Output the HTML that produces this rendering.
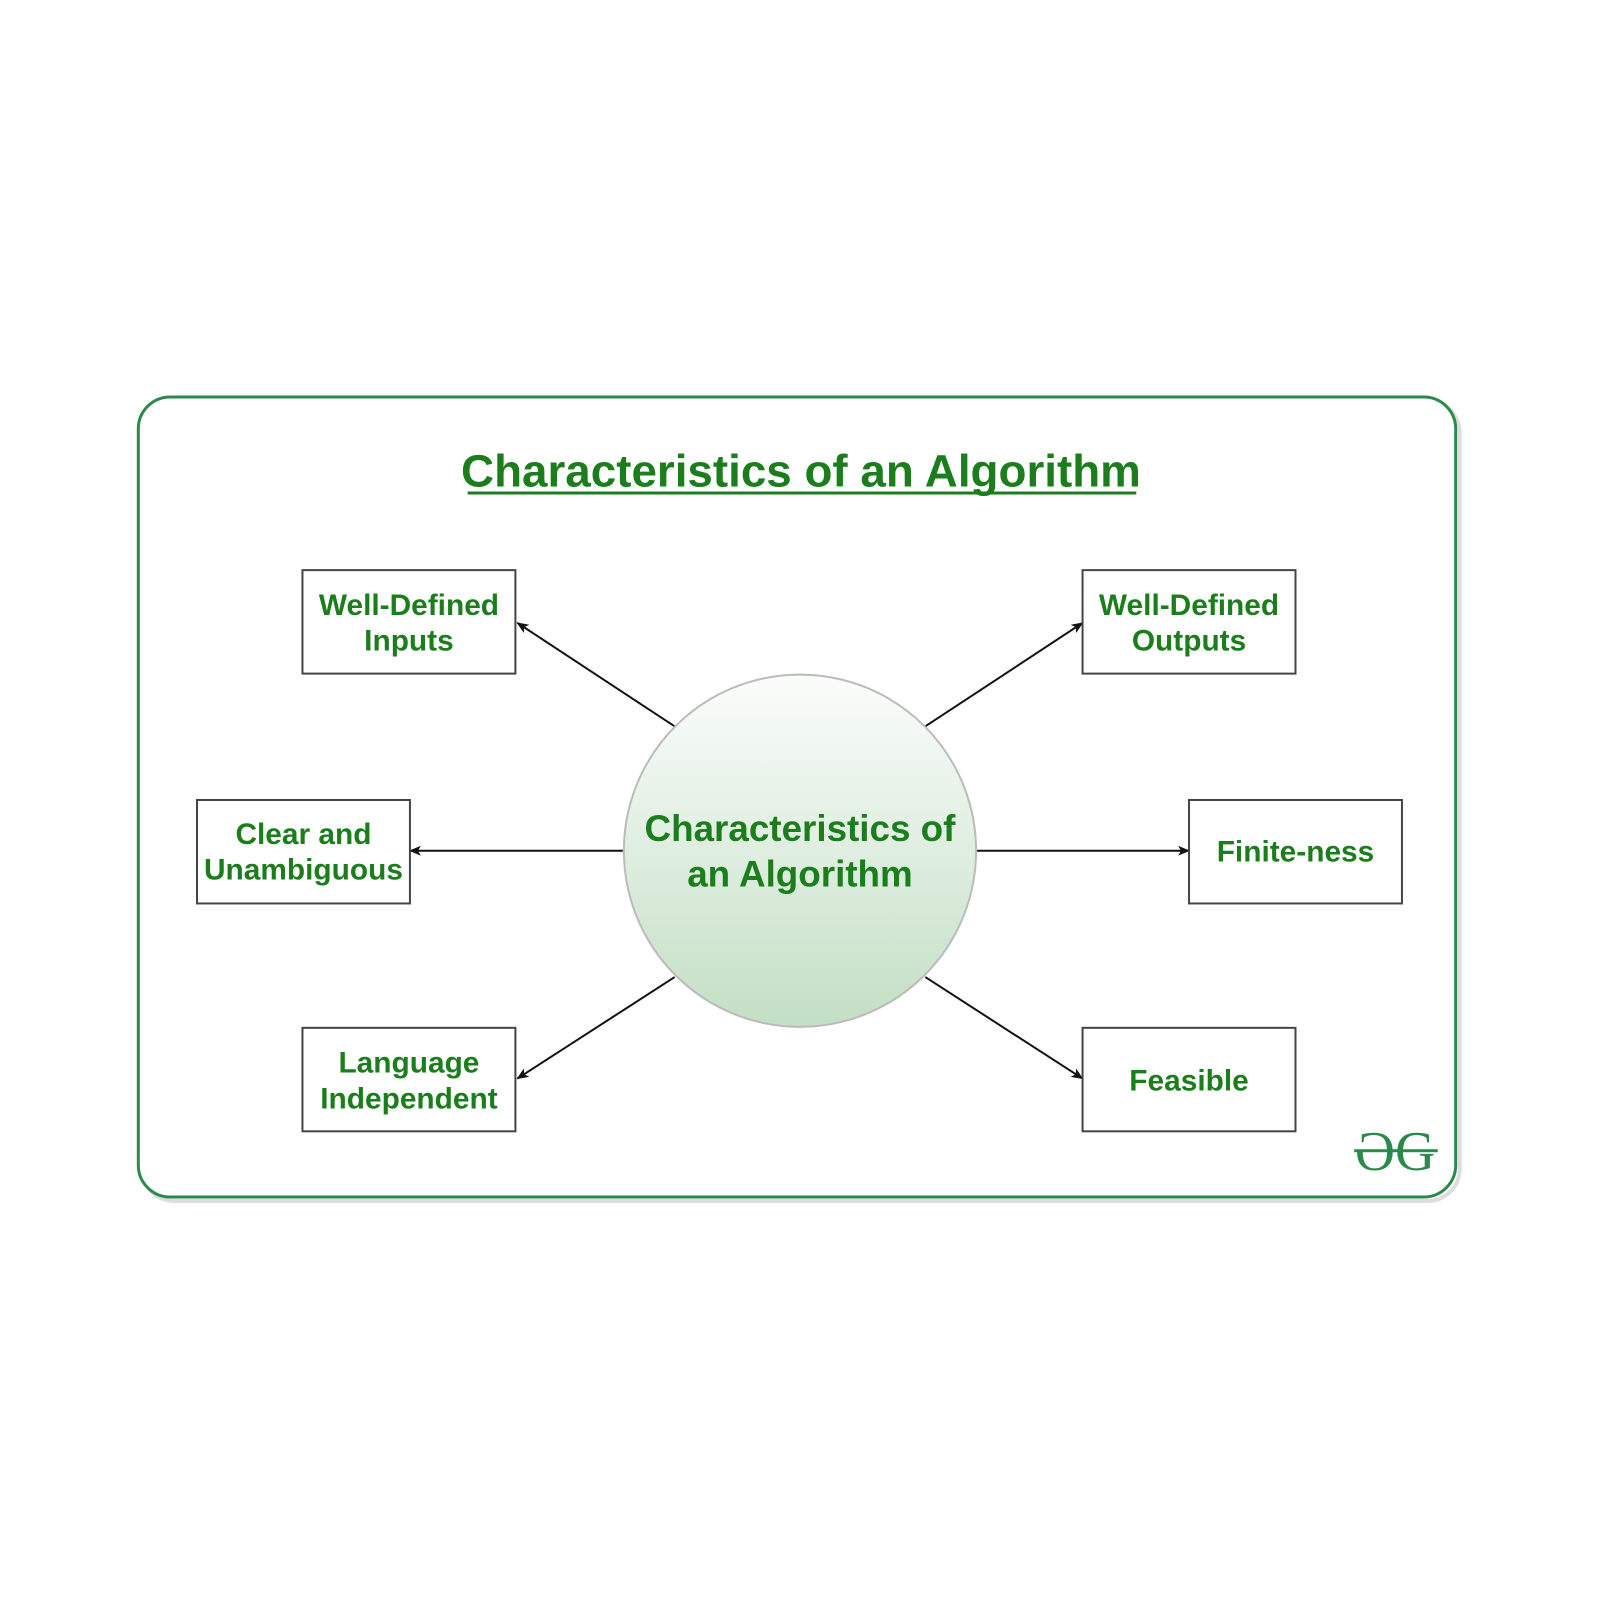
<!DOCTYPE html>
<html><head><meta charset="utf-8"><style>
body{margin:0;background:#fff;}
svg{display:block}
text{font-family:"Liberation Sans",sans-serif;font-weight:bold;fill:#1b7d1b;text-anchor:middle}
</style></head><body>
<svg width="1599" height="1599" viewBox="0 0 1599 1599" xmlns="http://www.w3.org/2000/svg">
<defs>
<linearGradient id="g" x1="0" y1="0" x2="0" y2="1">
<stop offset="0" stop-color="#fbfdfb"/><stop offset="1" stop-color="#c3dfc5"/>
</linearGradient>
<marker id="a" markerWidth="12" markerHeight="10" refX="11" refY="5" orient="auto" markerUnits="userSpaceOnUse">
<path d="M0,0 L12,5 L0,10 L3,5 Z" fill="#111"/>
</marker>
</defs>
<g transform="scale(0.995)">
<rect x="143" y="403" width="1324" height="804" rx="32" fill="none" stroke="#ddd" stroke-width="4"/>
<rect x="139" y="399" width="1324" height="804" rx="32" fill="#fff" stroke="#2a8a4a" stroke-width="3"/>
<text x="805" y="489" font-size="46">Characteristics of an Algorithm</text>
<rect x="470" y="494" width="672" height="3" fill="#1b7d1b"/>
<g stroke="#111" stroke-width="2" marker-end="url(#a)">
<line x1="678" y1="730" x2="520" y2="626"/>
<line x1="930" y1="730" x2="1088" y2="626"/>
<line x1="626" y1="855" x2="412" y2="855"/>
<line x1="981" y1="855" x2="1195" y2="855"/>
<line x1="678" y1="982" x2="520" y2="1084"/>
<line x1="930" y1="982" x2="1088" y2="1084"/>
</g>
<g fill="#fff" stroke="#444" stroke-width="2">
<rect x="304" y="573" width="214" height="104"/>
<rect x="1088" y="573" width="214" height="104"/>
<rect x="198" y="804" width="214" height="104"/>
<rect x="1195" y="804" width="214" height="104"/>
<rect x="304" y="1033" width="214" height="104"/>
<rect x="1088" y="1033" width="214" height="104"/>
</g>
<circle cx="804" cy="855" r="177" fill="url(#g)" stroke="#bbb" stroke-width="2"/>
<g font-size="30">
<text x="411" y="618">Well-Defined</text><text x="411" y="654">Inputs</text>
<text x="1195" y="618">Well-Defined</text><text x="1195" y="654">Outputs</text>
<text x="305" y="848">Clear and</text><text x="305" y="884">Unambiguous</text>
<text x="1302" y="866">Finite-ness</text>
<text x="411" y="1078">Language</text><text x="411" y="1114">Independent</text>
<text x="1195" y="1096">Feasible</text>
</g>
<text x="804" y="845" font-size="37">Characteristics of</text>
<text x="804" y="891" font-size="37">an Algorithm</text>
<text x="1402" y="1176" font-size="56" style="font-family:'Liberation Serif',serif;font-weight:normal;fill:#2a8a4a">ƏG</text>
<rect x="1361" y="1155" width="84" height="3" fill="#2a8a4a"/>
</g>
</svg>
</body></html>
